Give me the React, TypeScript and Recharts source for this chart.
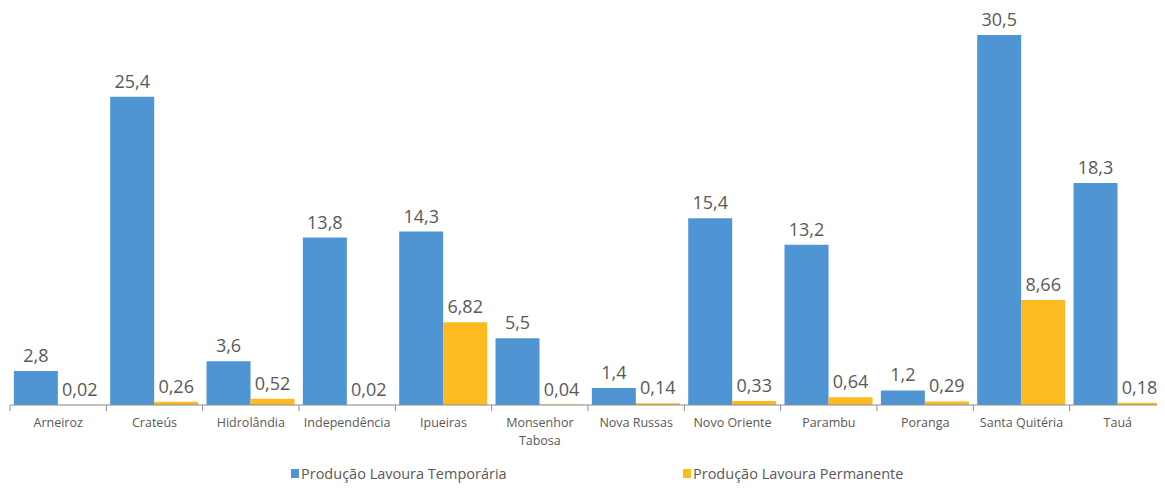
import React from 'react';
import { BarChart, Bar, XAxis, YAxis, LabelList, Legend } from 'recharts';

const categories = ['Arneiroz', 'Crateús', 'Hidrolândia', 'Independência', 'Ipueiras', 'Monsenhor Tabosa', 'Nova Russas', 'Novo Oriente', 'Parambu', 'Poranga', 'Santa Quitéria', 'Tauá'];
const temporaria = [2.8, 25.4, 3.6, 13.8, 14.3, 5.5, 1.4, 15.4, 13.2, 1.2, 30.5, 18.3];
const permanente = [0.02, 0.26, 0.52, 0.02, 6.82, 0.04, 0.14, 0.33, 0.64, 0.29, 8.66, 0.18];
const seriesNames = ['Produção Lavoura Temporária', 'Produção Lavoura Permanente'];

const data = categories.map((name, i) => ({ name, t: temporaria[i], p: permanente[i] }));

const W = 1158;
const H = 480;
const M = { top: 27, left: 2, right: 0, bottom: 33 };
const BAND = (W - M.left - M.right) / categories.length;
const BLUE = '#4F95D3';
const ORANGE = '#FDBA21';
const GRAY = '#595959';
const FONT = '"Open Sans", sans-serif';

const fmt = (v: any) => String(v).replace('.', ',');

const Tick = (props: any) => {
  const { x, y, payload, index } = props;
  const label: string = payload.value;
  const lines = label.length > 14 ? label.split(' ') : [label];
  const left = x - BAND / 2;
  const right = x + BAND / 2;
  return (
    <g>
      <line x1={left} x2={left} y1={y - 8} y2={y - 2} stroke="#8c8c8c" strokeWidth={1} />
      {index === categories.length - 1 && (
        <line x1={right - 1} x2={right - 1} y1={y - 8} y2={y - 2} stroke="#8c8c8c" strokeWidth={1} />
      )}
      <text x={x} y={y + 14} textAnchor="middle" fill={GRAY} fontSize={12.5} fontFamily={FONT}>
        {lines.map((l, i) => (
          <tspan key={i} x={x} dy={i === 0 ? 0 : 18}>{l}</tspan>
        ))}
      </text>
    </g>
  );
};

const LegendContent = () => (
  <div style={{ position: 'relative', height: 20, fontFamily: FONT, fontSize: 14.5, color: GRAY }}>
    {[BLUE, ORANGE].map((c, i) => (
      <div key={i} style={{ position: 'absolute', left: i === 0 ? 283 : 675, top: 0, display: 'flex', alignItems: 'center', whiteSpace: 'nowrap' }}>
        <span style={{ display: 'inline-block', width: 8, height: 9, background: c, marginRight: 2 }} />
        <span>{seriesNames[i]}</span>
      </div>
    ))}
  </div>
);

export default function App() {
  return (
    <BarChart width={W} height={H} data={data} margin={M} barCategoryGap="4%" barGap={0}>
      <XAxis
        dataKey="name"
        interval={0}
        height={50}
        tickLine={false}
        axisLine={{ stroke: '#8c8c8c' }}
        tick={<Tick />}
      />
      <YAxis hide domain={[0, 30.5]} />
      <Legend
        layout="horizontal"
        verticalAlign="middle"
        content={<LegendContent />}
        wrapperStyle={{ top: 456, left: 0, width: W }}
      />
      <Bar dataKey="t" name={seriesNames[0]} fill={BLUE} isAnimationActive={false}>
        <LabelList dataKey="t" position="top" offset={9} formatter={fmt} fill={GRAY} fontSize={18} fontFamily={FONT} />
      </Bar>
      <Bar dataKey="p" name={seriesNames[1]} fill={ORANGE} isAnimationActive={false}>
        <LabelList dataKey="p" position="top" offset={9} formatter={fmt} fill={GRAY} fontSize={18} fontFamily={FONT} />
      </Bar>
    </BarChart>
  );
}
